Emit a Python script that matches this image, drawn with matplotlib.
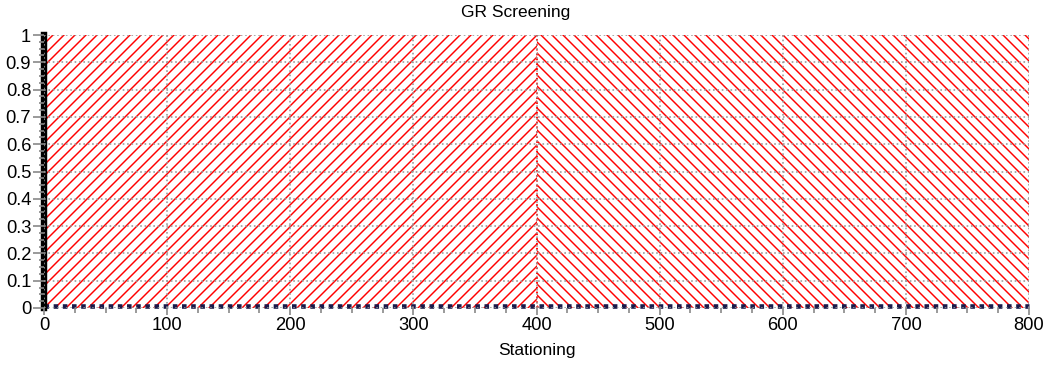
import matplotlib
matplotlib.use('Agg')
from matplotlib import pyplot as plt
from matplotlib.ticker import MultipleLocator
import numpy as np

# screening segments along the alignment
seg_start = [0, 400]
seg_end = [400, 800]
seg_hatch = ['////', '\\\\\\\\']
screen_lo = [0.0, 0.0]
screen_hi = [1.0, 1.0]
boundary_station = [400]
ytick_vals = [0, 0.1, 0.2, 0.3, 0.4, 0.5, 0.6, 0.7, 0.8, 0.9, 1]
ytick_labels = ['0', '0.1', '0.2', '0.3', '0.4', '0.5', '0.6', '0.7', '0.8', '0.9', '1']

plt.rcParams['font.family'] = ['Liberation Sans', 'DejaVu Sans']
plt.rcParams['hatch.color'] = '#ff0000'
plt.rcParams['hatch.linewidth'] = 0.8

dpi = 132
fig = plt.figure(figsize=(1049 / dpi, 367 / dpi), dpi=dpi)
ax = fig.add_axes([44 / 1049, 1 - 308 / 367, 985 / 1049, 273 / 367])

for x0, x1, h, lo, hi in zip(seg_start, seg_end, seg_hatch, screen_lo, screen_hi):
    ax.fill_between([x0, x1], [lo, lo], [hi, hi], facecolor='white',
                    edgecolor='#ff0000', hatch=h, linewidth=0)

for s in boundary_station:
    ax.plot([s, s], [0, 1], color='#ff0000', linestyle=':', linewidth=1.0)

ax.plot([0, 800], [0.006, 0.006], color='#1a1a4a', linestyle=(0, (1, 1)),
        linewidth=2.5, clip_on=False)

ax.set_xlim(0, 800)
ax.set_ylim(0, 1)
ax.xaxis.set_major_locator(MultipleLocator(100))
ax.xaxis.set_minor_locator(MultipleLocator(25))
ax.set_yticks(ytick_vals)
ax.set_yticklabels(ytick_labels)
ax.yaxis.set_minor_locator(MultipleLocator(0.025))
ax.grid(True, which='major', color='#999999', linestyle=':', linewidth=0.9)
ax.set_axisbelow(False)

ax.tick_params(axis='both', which='major', direction='out', length=4, width=0.9,
               color='#888888', labelsize=10, pad=1)
ax.tick_params(axis='both', which='minor', direction='out', length=2.5, width=0.9,
               color='#888888')
ax.tick_params(axis='y', which='major', length=6)

for side in ['top', 'right']:
    ax.spines[side].set_visible(False)
ax.spines['left'].set_linewidth(3.5)
ax.spines['left'].set_color('black')
ax.spines['bottom'].set_visible(False)

fig.text(516 / 1049, 1 - 13 / 367, 'GR Screening', fontsize=9.5,
         ha='center', va='center')
ax.set_xlabel('Stationing', fontsize=9.5, labelpad=5)

fig.savefig('out.png', dpi=dpi)
